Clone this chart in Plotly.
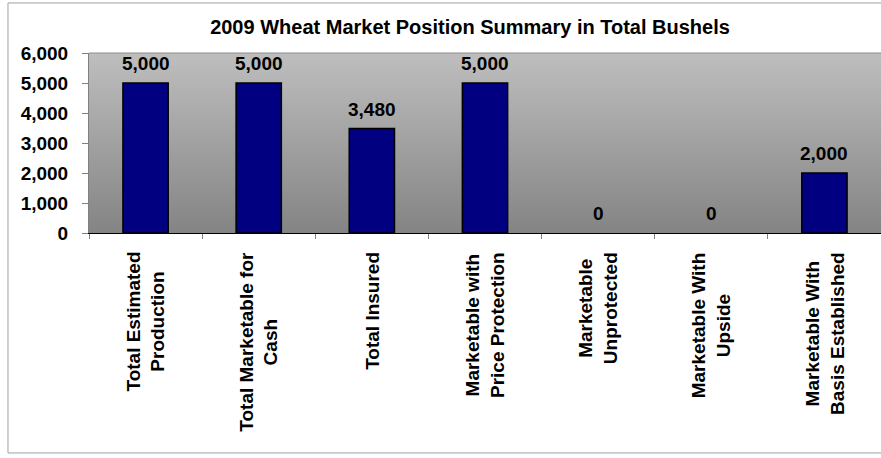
import base64
import plotly.graph_objs as go

categories = ["Total Estimated Production", "Total Marketable for Cash", "Total Insured",
              "Marketable with Price Protection", "Marketable Unprotected",
              "Marketable With Upside", "Marketable With Basis Established"]
tick_labels = ["Total Estimated<br>Production", "Total Marketable for<br>Cash", "Total Insured",
               "Marketable with<br>Price Protection", "Marketable<br>Unprotected",
               "Marketable With<br>Upside", "Marketable With<br>Basis Established"]
bushels = [5000, 5000, 3480, 5000, 0, 0, 2000]

FONT = "Liberation Sans, Arial, sans-serif"

# vertical gray gradient used as the plot-area background
svg = ('<svg xmlns="http://www.w3.org/2000/svg" width="100" height="100" viewBox="0 0 100 100" '
       'preserveAspectRatio="none"><defs><linearGradient id="g" x1="0" y1="0" x2="0" y2="1">'
       '<stop offset="0" stop-color="#bebebe"/><stop offset="1" stop-color="#848484"/>'
       '</linearGradient></defs><rect width="100" height="100" fill="url(#g)"/></svg>')
bg_src = "data:image/svg+xml;base64," + base64.b64encode(svg.encode()).decode()

fig = go.Figure()
fig.add_trace(go.Bar(
    x=categories, y=bushels, width=0.4,
    # zero-height bars get no outline, as in the original
    marker=dict(color="#000080", line=dict(color="black", width=[1.5 if v else 0 for v in bushels])),
    hoverinfo="x+y",
))

# value labels above the bars
for cat, val in zip(categories, bushels):
    fig.add_annotation(x=cat, y=val, text=f"<b>{val:,}</b>", showarrow=False,
                       yanchor="bottom", yshift=7, font=dict(family=FONT, size=19, color="black"))

# rotated category labels, centered lines like the original
for cat, lab in zip(categories, tick_labels):
    fig.add_annotation(x=cat, y=0, xref="x", yref="paper", text=f"<b>{lab}</b>", showarrow=False,
                       textangle=-90, align="center", xanchor="center", yanchor="top", yshift=-17,
                       font=dict(family=FONT, size=19, color="black"))

fig.update_layout(
    width=881, height=458,
    margin=dict(l=89, r=0, t=53, b=225),
    paper_bgcolor="white",
    plot_bgcolor="rgba(0,0,0,0)",
    showlegend=False,
    title=dict(text="<b>2009 Wheat Market Position Summary in Total Bushels</b>",
               x=0.5335, xanchor="center", y=0.94, yanchor="middle",
               font=dict(family=FONT, size=20, color="black")),
    images=[dict(source=bg_src, xref="paper", yref="paper", x=0, y=1, sizex=1, sizey=1,
                 sizing="stretch", layer="below", xanchor="left", yanchor="top")],
    shapes=[
        # outer chart border
        dict(type="rect", xref="paper", yref="paper", x0=-0.1023, x1=1.1, y0=-1.222, y1=1.278,
             line=dict(color="#a0a0a0", width=1), layer="below"),
        # thin line along the top of the plot area
        dict(type="line", xref="paper", yref="paper", x0=0, x1=1, y0=1, y1=1,
             line=dict(color="#8c8c8c", width=1)),
    ],
    xaxis=dict(showticklabels=False, ticks="outside", tickson="boundaries", ticklen=5,
               tickcolor="#808080", showline=True, linecolor="black", linewidth=1,
               showgrid=False, zeroline=False),
    yaxis=dict(range=[0, 6000], dtick=1000, tickformat=",", ticks="outside", ticklen=6,
               tickcolor="#808080", showline=True, linecolor="#808080", linewidth=1,
               showgrid=False, zeroline=False, ticklabelstandoff=10,
               tickfont=dict(family=FONT, size=19, color="black", weight="bold")),
)

# drop the browser's default page margin so the chart sits at the window's corner
fig.write_html("out.html", config={"displayModeBar": False},
               post_script="document.body.style.margin='0';document.body.style.overflow='hidden';")
